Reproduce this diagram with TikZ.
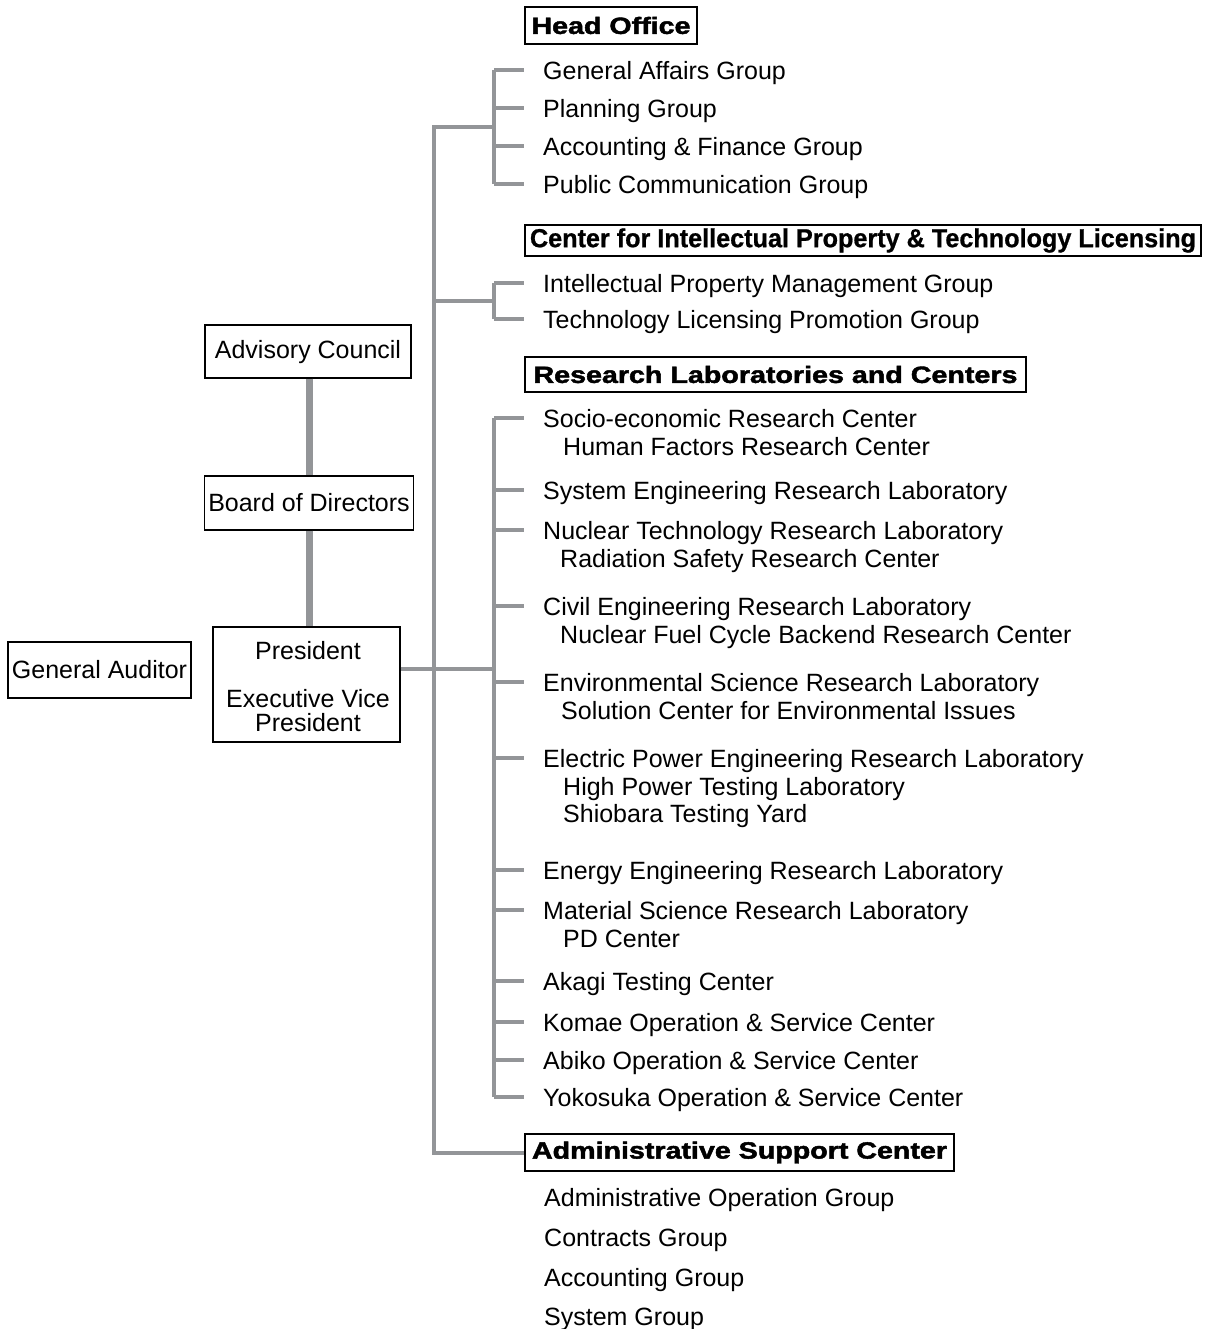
\documentclass[tikz,border=0pt]{standalone}
\usepackage{fontspec}
\usepackage{graphicx}
\setmainfont{Liberation Sans}
\newfontfamily\headfont[UprightFont={* Bold},FakeBold=1.8]{Liberation Sans}
\newfontfamily\narrowhead[UprightFont={* Bold},FakeBold=0.8]{Liberation Sans}
\definecolor{lgray}{RGB}{147,149,152}
\newcommand\fitw[2]{\resizebox{#1}{\height}{#2}}
\tikzset{
  conn/.style={draw=lgray, line width=4.5pt},
  thick conn/.style={draw=lgray, line width=7pt},
  box/.style={draw=black, line width=1.3pt, inner sep=0pt, rectangle},
  headbox/.style={box, font=\headfont\fontsize{23.5}{25}\selectfont},
  item/.style={anchor=base west, inner sep=0pt, font=\fontsize{25}{28}\selectfont},
  boxtext/.style={inner sep=0pt, font=\fontsize{25}{28}\selectfont},
}
\begin{document}
\begin{tikzpicture}[x=1pt,y=-1pt]
\useasboundingbox (0,0) rectangle (1205,1329);

% left boxes
\node[box, minimum width=206pt, minimum height=53pt] (adv) at (308,351.5) {};
\node[boxtext] (advt) at (308,352) {Advisory Council};
\node[box, minimum width=209pt, minimum height=54pt] (board) at (309,503) {};
\node[boxtext] (boardt) at (309,503) {Board of Directors};
\node[box, minimum width=187pt, minimum height=115pt] (pres) at (306.5,684.5) {};
\node[boxtext] (prest1) at (308,651) {President};
\node[boxtext, align=center] (prest2) at (308,711) {Executive Vice\\[-4pt]President};
\node[box, minimum width=183pt, minimum height=56pt] (aud) at (99.5,670) {};
\node[boxtext] (audt) at (99.5,670) {General Auditor};

\coordinate (vx) at (309,0);
\draw[thick conn] (vx |- adv.south) -- (vx |- board.north);
\draw[thick conn] (vx |- board.south) -- (vx |- pres.north);

% heading boxes
\node[headbox, minimum width=172pt, minimum height=37pt] (ho) at (611,25.5) {\fitw{159pt}{Head Office}};
\node[box, minimum width=676pt, minimum height=31pt, font=\narrowhead\fontsize{26}{27}\selectfont] (cip) at (863,240.5) {\fitw{666pt}{Center for Intellectual Property \& Technology Licensing}};
\node[headbox, minimum width=501pt, minimum height=35pt] (rlc) at (775.5,374.5) {\fitw{484pt}{Research Laboratories and Centers}};
\node[headbox, minimum width=429pt, minimum height=37pt] (asc) at (739.5,1152.5) {\fitw{415pt}{Administrative Support Center}};

% coordinates of trunk
\coordinate (tHO) at (434,127);
\coordinate (tIP) at (434,301);
\coordinate (tPR) at (434,669);
\coordinate (tAD) at (434,1153);
\coordinate (bHO) at (494,127);
\coordinate (bIP) at (494,301);
\coordinate (bLab) at (494,669);
\coordinate (pj) at (pres.east |- tPR);

% main trunk
\draw[conn] (bHO) -- (tHO) -- (tAD) -- (asc.west |- tAD);
\draw[conn] (tIP) -- (bIP);
\draw[conn] (pj) -- (bLab);

% Head office items
\foreach \y/\t/\n in {70/General Affairs Group/h1,108/Planning Group/h2,146/Accounting \& Finance Group/h3,184/Public Communication Group/h4}{
  \node[item] (\n) at (543,\y+9.5) {\t};
  \draw[conn] (494,\y) -- (524,\y);
}
\draw[conn] (494,70) -- (494,184);

% IP items
\foreach \y/\t/\n in {283/Intellectual Property Management Group/i1,319/Technology Licensing Promotion Group/i2}{
  \node[item] (\n) at (543,\y+9.5) {\t};
  \draw[conn] (494,\y) -- (524,\y);
}
\draw[conn] (494,283) -- (494,319);

% Lab items
\foreach \y/\t/\n in {418/Socio-economic Research Center/r1,490/System Engineering Research Laboratory/r2,530/Nuclear Technology Research Laboratory/r3,606/Civil Engineering Research Laboratory/r4,682/Environmental Science Research Laboratory/r5,758/Electric Power Engineering Research Laboratory/r6,870/Energy Engineering Research Laboratory/r7,910/Material Science Research Laboratory/r8,981/Akagi Testing Center/r9,1022/Komae Operation \& Service Center/r10,1060/Abiko Operation \& Service Center/r11,1097/Yokosuka Operation \& Service Center/r12}{
  \node[item] (\n) at (543,\y+9.5) {\t};
  \draw[conn] (494,\y) -- (524,\y);
}
\draw[conn] (494,418) -- (494,1097);

% sub-items
\foreach \x/\y/\t/\n in {563/446/Human Factors Research Center/s1,560/558/Radiation Safety Research Center/s2,560/634/Nuclear Fuel Cycle Backend Research Center/s3,561/710/Solution Center for Environmental Issues/s4,563/786/High Power Testing Laboratory/s5,563/813/Shiobara Testing Yard/s6,563/938/PD Center/s7}{
  \node[item] (\n) at (\x,\y+9.5) {\t};
}

% Admin items
\foreach \y/\t/\n in {1197/Administrative Operation Group/a1,1237/Contracts Group/a2,1277/Accounting Group/a3,1316/System Group/a4}{
  \node[item] (\n) at (544,\y+9.5) {\t};
}
\end{tikzpicture}
\end{document}
